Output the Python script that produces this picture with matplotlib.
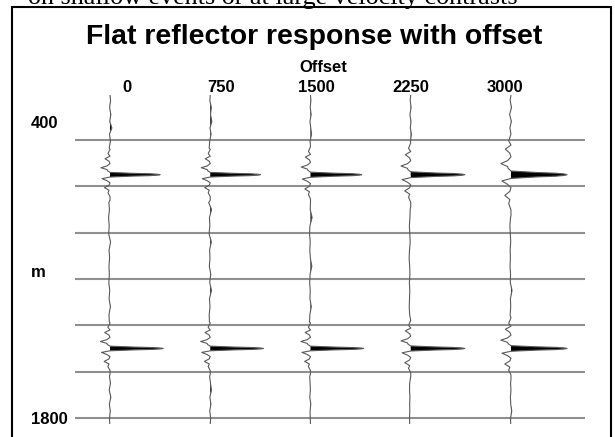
import matplotlib.pyplot as plt
from matplotlib.patches import Rectangle

# trace offsets and the two flat reflectors (depth, m)
offsets = [0, 750, 1500, 2250, 3000]
event_depths = [750, 1500]
grid_depths = [600, 800, 1000, 1200, 1400, 1600, 1800]
depth_labels = ['400', 'm', '1800']
depth_label_pos = [548, 1190, 1826]

# peak amplitude of each event on each trace (offset units)
peak_amp = [[375, 375, 383, 405, 420],
            [398, 398, 398, 405, 420]]
# vertical stretch of the wavelet (grows with offset)
stretch = [[1.0, 1.0, 1.1, 1.25, 1.6],
           [1.0, 1.0, 1.0, 1.1, 1.2]]

# wavelet shape: depth shift (m) / normalised amplitude
wavelet_dz = [-110, -91, -80, -69, -58, -48, -38, -30, -22, -17, -10, -6, -4, -2,
              0, 2, 4, 6, 10, 17, 26, 35, 45, 56, 67, 78, 95, 110]
wavelet_amp = [0, -0.04, 0, -0.10, -0.02, 0, -0.06, -0.18, -0.06, -0.05, 0, 0.45,
               0.8, 0.95, 1.0, 0.95, 0.8, 0.45, 0, -0.16, -0.06, 0, -0.02, -0.11,
               -0.02, -0.04, 0, 0]

# slow wander of each trace away from the events (offset units)
wander_depth = [406, 430, 460, 490, 520, 548, 575, 605, 635, 870, 900, 935, 970,
                1005, 1040, 1075, 1110, 1145, 1180, 1215, 1250, 1285, 1320, 1355,
                1385, 1620, 1650, 1680, 1710, 1740, 1770, 1800, 1826]
wander = [
    [0, 4, -3, 6, -2, 14, -4, 3, -6, -9, -4, -11, -6, -10, 4, -7, -3, -8, -5,
     -9, -2, -7, 3, -8, -5, -4, 3, -6, 6, -5, 2, -4, -2],
    [0, -3, 8, 2, 12, -2, 6, -4, -8, -12, 10, -6, -3, -9, 8, -5, -2, -7, 4,
     -4, 9, -6, -2, -8, -6, -5, 2, 9, -3, 5, -4, 3, 0],
    [0, 3, -2, 5, -4, 2, 8, -3, -10, -6, -2, 12, -4, -7, -2, -5, -1, 10, -3,
     -6, -2, -4, 6, -5, -7, -6, -3, -1, -5, 2, -3, -2, 0],
    [0, -4, 3, -6, 2, -3, 5, -2, -12, -8, -4, -6, -10, -7, -4, -9, -12, -8,
     -6, -10, -7, -9, -11, -8, -6, -10, -8, -9, -6, -8, -7, -9, -8],
    [0, -6, 4, -10, 3, -8, 6, -4, -14, -10, -6, -3, -8, -5, -2, -6, -4, -7,
     -3, -5, 8, -4, -2, -6, -8, -6, -3, 0, -4, -2, 6, -3, -2],
]

caption = 'on shallow events or at large velocity contrasts'
title = 'Flat reflector response with offset'

W, H = 615, 437
fig = plt.figure(figsize=(W / 100, H / 100), dpi=100)
ax = fig.add_axes([75 / W, 13 / H, 510 / W, 329 / H])
ax.set_xlim(-262, 3554)
ax.set_ylim(1826, 406)
ax.axis('off')

for d in grid_depths:
    ax.axhline(d, color='#8f8f8f', lw=1.5, zorder=1)


def trace_points(i):
    pts = []
    for d, w in zip(wander_depth, wander[i]):
        if all(abs(d - e) > 110 * stretch[k][i] for k, e in enumerate(event_depths)):
            pts.append((d, w))
    for k, e in enumerate(event_depths):
        for dz, a in zip(wavelet_dz, wavelet_amp):
            pts.append((e + dz * stretch[k][i], a * peak_amp[k][i]))
    pts.sort()
    return [p[0] for p in pts], [p[1] for p in pts]


for i, off in enumerate(offsets):
    z, a = trace_points(i)
    x = [off + v for v in a]
    ax.fill_betweenx(z, off, x, where=[v > 0 for v in a], interpolate=True,
                     color='black', lw=0, zorder=3)
    ax.plot(x, z, color='#5a5a5a', lw=0.8, zorder=4)

for lab, d in zip(depth_labels, depth_label_pos):
    ax.text(-0.0863, d, lab, transform=ax.get_yaxis_transform(), ha='left',
            va='baseline', fontsize=12, fontweight='bold', family='Liberation Sans')

# offset labels sit on their own slightly narrower scale
ax_lab = fig.add_axes([127 / W, (H - 92) / H, 378 / W, 0.01])
ax_lab.set_xlim(0, 3000)
ax_lab.axis('off')
for off in offsets:
    ax_lab.text(off, 0, str(off), transform=ax_lab.get_xaxis_transform(),
                ha='center', va='baseline', fontsize=12, fontweight='bold',
                family='Liberation Sans')

fig.text(323 / W, 1 - 72 / H, 'Offset', ha='center', va='baseline', fontsize=12,
         fontweight='bold', family='Liberation Sans')
fig.text(314 / W, 1 - 44 / H, title, ha='center', va='baseline', fontsize=20.4,
         fontweight='bold', family='Liberation Sans')
fig.text(28 / W, 1 - 4 / H, caption, ha='left', va='baseline', fontsize=18.8,
         family='Liberation Serif')

fig.patches.append(Rectangle((12 / W, -0.1), 599 / W, 1.1 - 7 / H, fill=False,
                             lw=1.5, ec='black', transform=fig.transFigure))

fig.savefig('out.png', dpi=100)
